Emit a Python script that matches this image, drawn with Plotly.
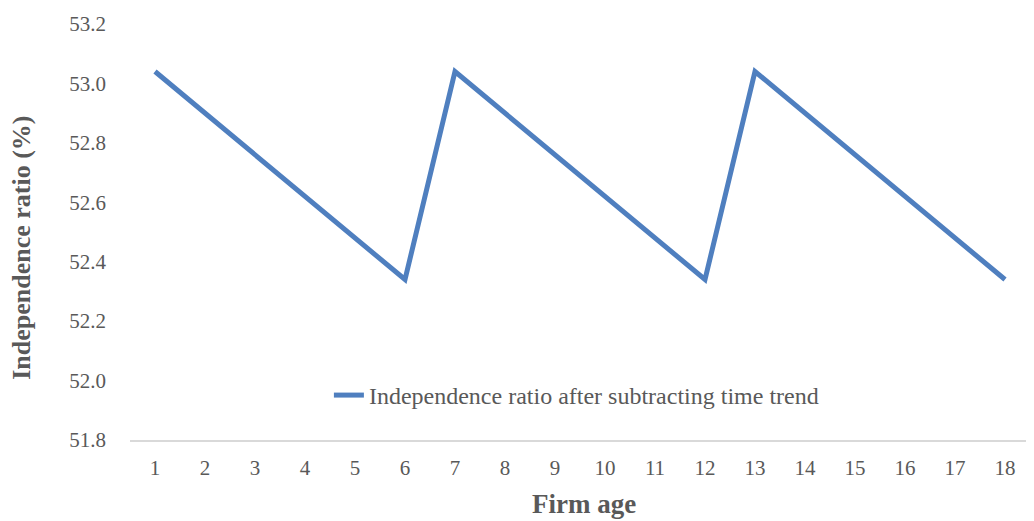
import plotly.graph_objects as go

firm_age = [str(i) for i in range(1, 19)]
ratio = [53.04, 52.90, 52.76, 52.62, 52.48, 52.34,
         53.04, 52.90, 52.76, 52.62, 52.48, 52.34,
         53.04, 52.90, 52.76, 52.62, 52.48, 52.34]
y_ticks = [51.8, 52.0, 52.2, 52.4, 52.6, 52.8, 53.0, 53.2]

fig = go.Figure()
fig.add_trace(go.Scatter(
    x=firm_age, y=ratio, mode="lines",
    name="Independence ratio after subtracting time trend",
    line=dict(color="#4F7FBF", width=5),
))

font_family = "Liberation Serif"
fig.update_layout(
    width=1026, height=513,
    margin=dict(l=122, r=4, t=12, b=81),
    paper_bgcolor="white", plot_bgcolor="white",
    font=dict(family=font_family, color="#595959", size=21),
    showlegend=True,
    legend=dict(x=0.496, y=0.107, xanchor="center", yanchor="middle",
                orientation="h", bgcolor="rgba(0,0,0,0)",
                font=dict(family=font_family, size=24, color="#595959")),
    xaxis=dict(
        type="category", range=[-0.5, 17.5],
        showgrid=False, showline=True, linecolor="#D9D9D9", linewidth=2,
        ticks="", ticklabelstandoff=8, tickfont=dict(family=font_family, size=21),
    ),
    yaxis=dict(
        range=[51.8, 53.2], tickvals=y_ticks,
        ticktext=[f"{v:.1f}" for v in y_ticks],
        showgrid=False, zeroline=False, showline=False, ticks="",
        ticklabelstandoff=23, tickfont=dict(family=font_family, size=21),
    ),
    annotations=[
        dict(text="<b>Firm age</b>", xref="paper", yref="paper", x=0.504, y=-0.155,
             xanchor="center", yanchor="middle", showarrow=False,
             font=dict(family=font_family, size=27, color="#595959")),
        dict(text="<b>Independence ratio (%)</b>", xref="paper", yref="paper", x=-0.12, y=0.462,
             xanchor="center", yanchor="middle", showarrow=False, textangle=-90,
             font=dict(family=font_family, size=26, color="#595959")),
    ],
)

fig.write_html("out.html")
